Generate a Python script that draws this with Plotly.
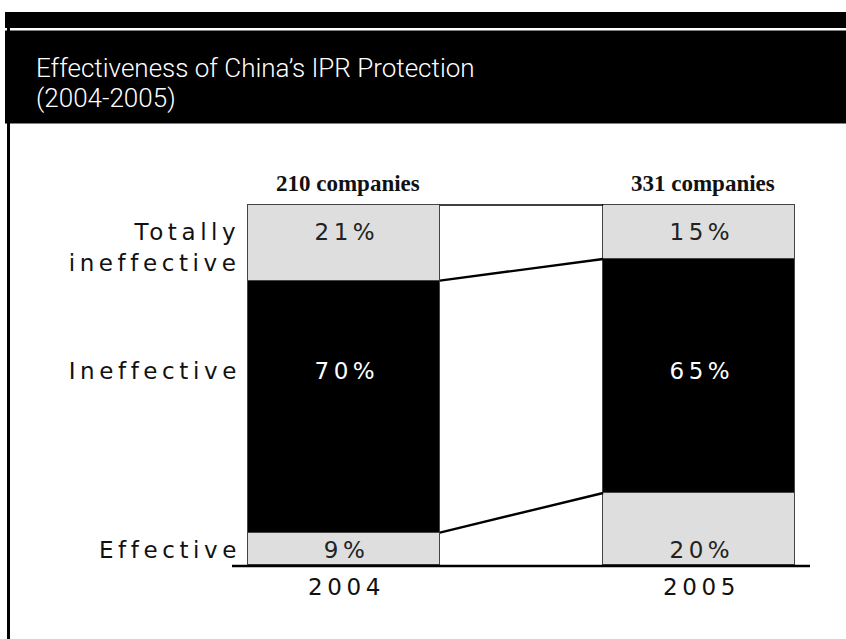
import plotly.graph_objects as go

# Survey results: share of companies rating China's IPR protection
years = ["2004", "2005"]
companies = ["210 companies", "331 companies"]
levels = ["Effective", "Ineffective", "Totally ineffective"]
effective = [9, 20]
ineffective = [70, 65]
totally_ineffective = [21, 15]
series = [effective, ineffective, totally_ineffective]
title_lines = ["Effectiveness of China\u2019s IPR Protection", "(2004-2005)"]

# Style / layout constants
W, H = 846, 639
BAR_W = 0.54
SEG_COLORS = ["#dedede", "#000000", "#dedede"]
TXT_COLORS = ["#222222", "#ffffff", "#222222"]
PX_PER_UNIT_X = 355.0
PX_PER_UNIT_Y = 3.6
X0_PX, Y0_PX = 344, 565  # pixel of x=0 / y=0
xs = [0, 1]

x_range = [-X0_PX / PX_PER_UNIT_X, (W - X0_PX) / PX_PER_UNIT_X]
y_range = [-(H - Y0_PX) / PX_PER_UNIT_Y, Y0_PX / PX_PER_UNIT_Y]


def py(pixel_y):
    """pixel row -> y data value"""
    return (Y0_PX - pixel_y) / PX_PER_UNIT_Y


def pp(pixel_y):
    """pixel row -> paper y"""
    return 1 - pixel_y / H


SANS = "DejaVu Sans"
SANS_SIZE = 23
fig = go.Figure()

for lvl, vals, col in zip(levels, series, SEG_COLORS):
    fig.add_trace(go.Bar(
        x=xs, y=vals, width=BAR_W, name=lvl,
        marker=dict(color=col, line=dict(color="#444444", width=1)),
        hoverinfo="skip", showlegend=False,
    ))

# connector lines between stacked boundaries
cum = [[0, 0]]
for vals in series:
    cum.append([cum[-1][i] + vals[i] for i in range(2)])
for k, bnd in enumerate(cum[1:]):
    fig.add_trace(go.Scatter(
        x=[xs[0] + BAR_W / 2, xs[1] - BAR_W / 2], y=bnd, mode="lines",
        line=dict(color="black", width=1.6 if k == len(series) - 1 else 2.4),
        hoverinfo="skip", showlegend=False,
    ))

shapes = [
    # header bands
    dict(type="rect", xref="paper", yref="paper", x0=5 / W, x1=1, y0=pp(28), y1=pp(12),
         fillcolor="black", line_width=0, layer="below"),
    dict(type="rect", xref="paper", yref="paper", x0=5 / W, x1=1, y0=pp(123.5), y1=pp(30.5),
         fillcolor="black", line_width=0, layer="below"),
    # left frame line
    dict(type="line", xref="paper", yref="paper", x0=8.5 / W, x1=8.5 / W, y0=0, y1=pp(12),
         line=dict(color="black", width=3)),
    # baseline
    dict(type="line", xref="x", yref="y", x0=(232 - X0_PX) / PX_PER_UNIT_X,
         x1=(810 - X0_PX) / PX_PER_UNIT_X, y0=-0.3, y1=-0.3,
         line=dict(color="black", width=2.5)),
]

annotations = []
# title
for txt, ypx in zip(title_lines, [68, 98]):
    annotations.append(dict(
        xref="paper", yref="paper", x=34 / W, y=pp(ypx), xanchor="left", yanchor="middle",
        align="left", showarrow=False, text=txt,
        font=dict(family="Roboto", size=26, color="white", weight=300),
    ))

# row labels and percentage labels
row_lines = [[("Effective", 550)], [("Ineffective", 371)],
             [("Totally", 232), ("ineffective", 263)]]
pct_rows = [550, 371, 232]
for li, lines in enumerate(row_lines):
    for txt, ypx in lines:
        annotations.append(dict(
            x=(238 - X0_PX) / PX_PER_UNIT_X, y=py(ypx), xanchor="right", yanchor="middle",
            align="right", showarrow=False, text=txt,
            font=dict(family=SANS, size=SANS_SIZE, color="#111111"),
        ))
    for i in range(2):
        annotations.append(dict(
            x=xs[i], y=py(pct_rows[li]), xanchor="center", yanchor="middle",
            showarrow=False, text=f"{series[li][i]}%",
            font=dict(family=SANS, size=SANS_SIZE, color=TXT_COLORS[li]),
        ))

for i in range(2):
    annotations.append(dict(
        x=xs[i], y=py(587), xanchor="center", yanchor="middle", showarrow=False,
        text=years[i], font=dict(family=SANS, size=SANS_SIZE, color="#111111"),
    ))
    annotations.append(dict(
        x=xs[i] + 0.01, y=py(183), xanchor="center", yanchor="middle", showarrow=False,
        text=companies[i],
        font=dict(family="Liberation Serif", size=23, color="#111111", weight="bold"),
    ))

fig.update_layout(
    width=W, height=H, autosize=False,
    margin=dict(l=0, r=0, t=0, b=0),
    paper_bgcolor="white", plot_bgcolor="white",
    barmode="stack", bargap=0,
    xaxis=dict(range=x_range, visible=False, fixedrange=True),
    yaxis=dict(range=y_range, visible=False, fixedrange=True),
    shapes=shapes, annotations=annotations,
)

# widen the tracking of the sans-serif labels, keeping their anchor edge in place
spacing_js = """
var gd = document.getElementById('{plot_id}');
var SP = 4.6;
function spreadText(){
  gd.querySelectorAll('text.annotation-text').forEach(function(t){
    var ff = t.style.fontFamily || '';
    if (ff.indexOf('DejaVu') < 0 || t.getAttribute('data-spread')) { return; }
    t.setAttribute('data-spread', '1');
    t.style.letterSpacing = SP + 'px';
    var anchor = t.getAttribute('text-anchor') || 'start';
    var x = parseFloat(t.getAttribute('x')) || 0;
    var dx = 0;
    if (anchor === 'end') { dx = SP; }
    else if (anchor === 'middle') { dx = SP / 2; }
    t.setAttribute('x', x + dx);
  });
}
spreadText();
gd.on('plotly_afterplot', spreadText);
"""

fig.write_html("out.html", post_script=spacing_js)
